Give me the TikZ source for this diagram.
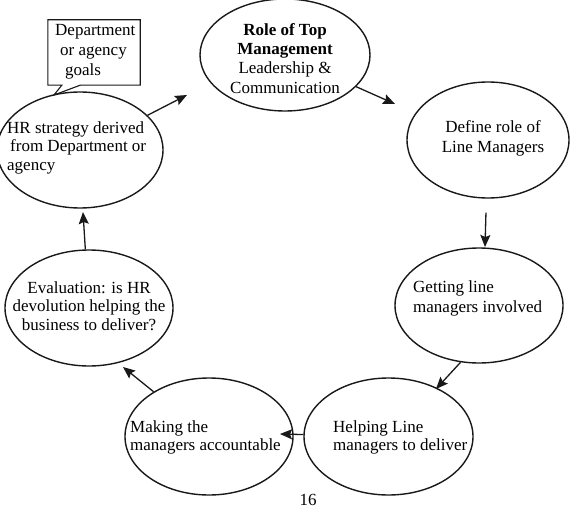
\documentclass[tikz,border=0pt]{standalone}
\usepackage{fontspec}
\setmainfont{Liberation Serif}
\usetikzlibrary{arrows.meta,shapes.geometric}
\newcommand\dfont[1]{\fontsize{17}{#1}\selectfont}
\begin{document}
\begin{tikzpicture}[x=1pt,y=-1pt,
  ell/.style={draw=black!90, ellipse, line width=1.4pt, inner sep=0pt},
  ltxt/.style={inner sep=0pt, anchor=north west, align=left},
  ctxt/.style={inner sep=0pt, anchor=north, align=center},
  arr/.style={draw=black!90, line width=1.3pt, -{Stealth[length=12pt,width=10pt,inset=2pt]}},
  callout/.style={draw=black!90, line width=1.1pt, line join=miter},
]
\useasboundingbox (0,0) rectangle (570,508);
\fill[white] (0,0) rectangle (570,508);
\clip (0,0) rectangle (570,508);

% ellipses
\node[ell, minimum width=166pt, minimum height=116pt] (e1) at (80,150) {};
\node[ell, minimum width=170pt, minimum height=112pt] (e2) at (285,55) {};
\node[ell, minimum width=162pt, minimum height=116pt] (e3) at (488,140) {};
\node[ell, minimum width=168pt, minimum height=115pt] (e4) at (479,305.5) {};
\node[ell, minimum width=169pt, minimum height=117pt] (e5) at (388.5,436.5) {};
\node[ell, minimum width=168pt, minimum height=117pt] (e6) at (209,436.5) {};
\node[ell, minimum width=168pt, minimum height=116pt] (e7) at (89,308) {};

% texts
\node[ltxt, font=\dfont{18.5}] (t1) at (7,120) {\strut HR strategy derived\\\hspace{3pt}from Department or\\agency};
\node[ctxt, font=\dfont{19.3}] (t2) at (285,21.5) {\strut\textbf{Role of Top}\\\textbf{Management}\\Leadership \&\\Communication};
\node[ctxt, font=\dfont{20}] (t3) at (493,118) {\strut Define role of\\Line Managers};
\node[ltxt, font=\dfont{20}] (t4) at (413,278) {\strut Getting line\\managers involved};
\node[ltxt, font=\dfont{18}] (t5) at (333,419.4) {\strut Helping Line\\managers to deliver};
\node[ltxt, font=\dfont{18}] (t6) at (130,419.4) {\strut Making the\\managers accountable};
\node[ctxt, font=\dfont{18.5}] (t7) at (89,280) {\strut Evaluation: is HR\\devolution helping the\\business to deliver?};
\node[inner sep=0pt, anchor=base, font=\dfont{20}] (pg) at (308,505) {16};

% callout box
\node[inner sep=0pt, minimum width=92pt, minimum height=65pt] (gbox) at (94,52.5) {};
\coordinate (ptr) at (54,95);
\draw[callout] (gbox.north west) -- (gbox.north east) -- (gbox.south east)
  -- ([xshift=-60pt]gbox.south east) -- (ptr) -- ([xshift=14pt]gbox.south west)
  -- (gbox.south west) -- cycle;
\node[ltxt, font=\dfont{20}] (gtext) at (55,21) {\strut Department\\\hspace{5pt}or agency\\\hspace{10pt}goals};

% connectors
\coordinate (t12) at (187,95);
\coordinate (t23) at (395,104);
\coordinate (t34) at (485,247);
\coordinate (t45) at (436,389);
\coordinate (t56) at (280,434);
\coordinate (t67) at (123,367);
\coordinate (t71) at (83,212);
\draw[arr] (e1) -- (t12);
\draw[arr] (e2) -- (t23);
\draw[arr, shorten <=14pt] (e3) -- (t34);
\draw[arr] (e4.-108) -- (t45);
\draw[arr] (e5) -- (t56);
\draw[arr] (e6) -- (t67);
\draw[arr] (e7) -- (t71);
\end{tikzpicture}
\end{document}
